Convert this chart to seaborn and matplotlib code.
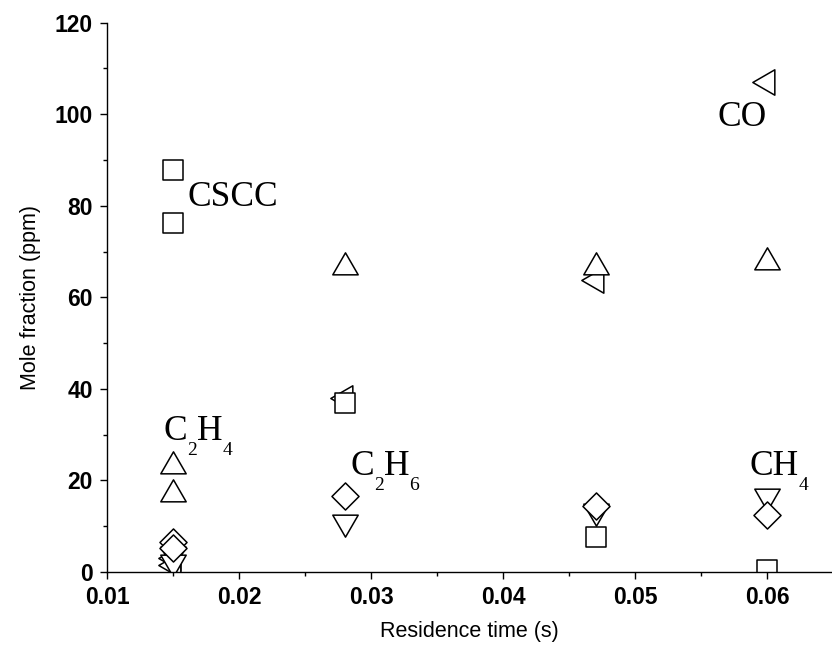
import numpy as np
import pandas as pd
import matplotlib
matplotlib.use("Agg")
import matplotlib.pyplot as plt
import matplotlib.transforms as mtransforms
from matplotlib.path import Path
from matplotlib.ticker import MultipleLocator
import seaborn as sns

# Residence times (s); the first time was measured twice
times = [0.015, 0.015, 0.028, 0.047, 0.060]

# Mole fractions (ppm) per species
cscc = [87.8, 76.3, 37.0, 7.7, 0.5]
co = [3.0, 1.5, 37.9, 63.7, 107.1]
c2h4 = [23.1, 17.1, 66.6, 66.6, 67.7]
c2h6 = [6.6, 5.2, 16.7, 14.4, 12.4]
ch4 = [4.0, 2.2, 10.9, 13.3, 16.7]

species = ["CO", "CH4", "C2H6", "C2H4", "CSCC"]
series = [co, ch4, c2h6, c2h4, cscc]

x_ticks = [0.01, 0.02, 0.03, 0.04, 0.05, 0.06]
x_tick_labels = ["0.01", "0.02", "0.03", "0.04", "0.05", "0.06"]
y_ticks = [0, 20, 40, 60, 80, 100, 120]
y_tick_labels = ["0", "20", "40", "60", "80", "100", "120"]

# Species annotations: pieces of text (main / subscript) and anchor (left, baseline)
label_parts = {
    "CSCC": [("CSCC", False)],
    "CO": [("CO", False)],
    "C2H4": [("C", False), ("2", True), ("H", False), ("4", True)],
    "C2H6": [("C", False), ("2", True), ("H", False), ("6", True)],
    "CH4": [("CH", False), ("4", True)],
}
label_x = {"CSCC": 0.01613, "CO": 0.0562, "C2H4": 0.01426, "C2H6": 0.02843, "CH4": 0.05869}
label_y = {"CSCC": 79.9, "CO": 97.4, "C2H4": 28.9, "C2H6": 21.2, "CH4": 21.2}

df = pd.DataFrame({
    "time": times * len(species),
    "value": [v for s in series for v in s],
    "species": [name for name in species for _ in times],
})

# Equilateral triangles centred on their centroid
r3 = np.sqrt(3.0)
codes = [Path.MOVETO, Path.LINETO, Path.LINETO, Path.CLOSEPOLY]
tri_up = Path([(0, 2 / r3), (-1, -1 / r3), (1, -1 / r3), (0, 2 / r3)], codes)
tri_down = Path([(0, -2 / r3), (-1, 1 / r3), (1, 1 / r3), (0, -2 / r3)], codes)
tri_left = Path([(-2 / r3, 0), (1 / r3, 1), (1 / r3, -1), (-2 / r3, 0)], codes)

markers = {"CO": tri_left, "CH4": tri_down, "C2H6": "D", "C2H4": tri_up, "CSCC": "s"}
sizes = {"CO": 446, "CH4": 446, "C2H6": 190, "C2H4": 446, "CSCC": 200}

sns.set_style("ticks")
plt.rcParams["font.family"] = ["Liberation Sans", "DejaVu Sans"]

fig = plt.figure(figsize=(8.32, 6.57), dpi=100)
fig.patch.set_facecolor("white")
ax = fig.add_axes([107 / 832, (657 - 572) / 657, (832 - 107) / 832, (572 - 22.6) / 657])
ax.set_facecolor("white")

for name in species:
    sns.scatterplot(
        data=df[df["species"] == name], x="time", y="value",
        marker=markers[name], s=sizes[name],
        facecolor="white", edgecolor="black", linewidth=1.1,
        legend=False, zorder=2, ax=ax,
    )

ax.set_xlim(0.01, 0.0649)
ax.set_ylim(0, 120)
ax.set_xticks(x_ticks)
ax.set_xticklabels(x_tick_labels)
ax.set_yticks(y_ticks)
ax.set_yticklabels(y_tick_labels)
ax.xaxis.set_minor_locator(MultipleLocator(0.005))
ax.yaxis.set_minor_locator(MultipleLocator(10))

for side in ["top", "right"]:
    ax.spines[side].set_visible(False)
for side in ["left", "bottom"]:
    ax.spines[side].set_color("black")
    ax.spines[side].set_linewidth(1.0)

ax.tick_params(which="major", direction="out", length=5, width=1.0, color="black",
               labelsize=16.5, labelcolor="black", pad=5)
ax.tick_params(which="minor", direction="out", length=3, width=1.0, color="black")
for lab in ax.get_xticklabels() + ax.get_yticklabels():
    lab.set_fontweight("bold")

ax.set_xlabel("Residence time (s)", fontsize=15.5, color="black", labelpad=9)
ax.set_ylabel("Mole fraction (ppm)", fontsize=15.5, color="black", labelpad=10)
ax.grid(False)

# Chemical labels with lowered subscripts
renderer = fig.canvas.get_renderer()
serif = ["Liberation Serif", "DejaVu Serif"]
main_size, sub_size, sub_drop = 25.5, 14, 11
for key, parts in label_parts.items():
    dx = 0.0
    for text, is_sub in parts:
        tr = mtransforms.offset_copy(ax.transData, fig=fig, x=dx,
                                     y=-sub_drop if is_sub else 0, units="points")
        t = ax.text(label_x[key], label_y[key], text, transform=tr,
                    fontsize=sub_size if is_sub else main_size,
                    family=serif, ha="left", va="baseline", color="black")
        bb = t.get_window_extent(renderer)
        dx += bb.width * 72.0 / fig.dpi

fig.savefig("out.png", dpi=100, facecolor="white")
